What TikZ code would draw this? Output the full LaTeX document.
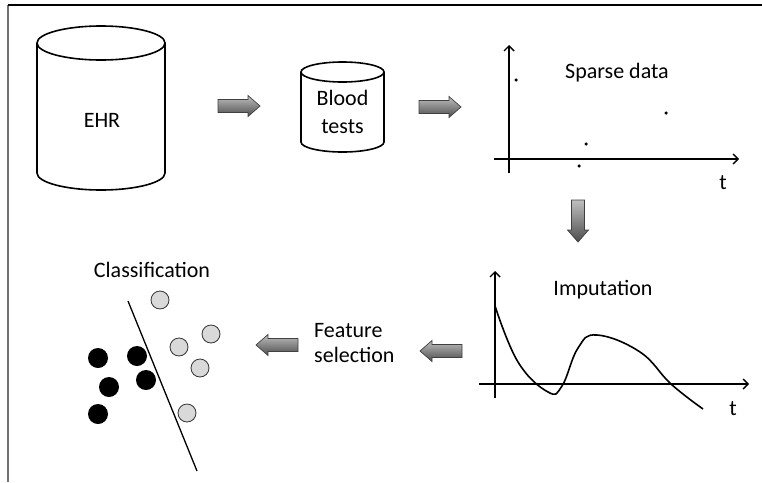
\documentclass[tikz,border=0pt]{standalone}
\usepackage{fontspec}
\setmainfont{Carlito}
\usetikzlibrary{arrows.meta}

\tikzset{
  fatarrow/.style={draw=black!75, line width=0.7pt, top color=black!25, bottom color=black!70},
  axis/.style={line width=1.4pt, -{Straight Barb[length=5pt,width=10pt]}},
  lbl/.style={font=\fontsize{22}{25}\selectfont, inner sep=0pt},
  blackdot/.style={circle, fill=black, minimum size=20pt, inner sep=0pt},
  greydot/.style={circle, draw=black!80, fill=black!15, line width=0.8pt, minimum size=18pt, inner sep=0pt},
  datadot/.style={circle, fill=black, minimum size=3.5pt, inner sep=0pt}
}

\begin{document}
\begin{tikzpicture}[x=1pt,y=-1pt]
    \useasboundingbox (0,0) rectangle (762,482);
    \draw[black!55, line width=1.3pt] (8,5) -- (8,482);
    \draw[line width=1.3pt] (8,5) -- (762,5);

    % databases
    \draw[line width=1.6pt] (37,43) -- (37,173) arc[start angle=180, end angle=0, x radius=64, y radius=17] -- (165,43);
    \draw[line width=1.6pt] (101,43) ellipse[x radius=64, y radius=17];
    \node[lbl] (ehr) at (102,120) {EHR};

    \draw[line width=1.6pt] (301,72) -- (301,142) arc[start angle=180, end angle=0, x radius=41.5, y radius=10] -- (384,72);
    \draw[line width=1.6pt] (342.5,72) ellipse[x radius=41.5, y radius=10];
    \node[lbl, align=center, font=\fontsize{22}{28}\selectfont] (blood) at (342.5,112) {Blood\\tests};

    % block arrows (x/y/rotation)
    \foreach \x/\y/\r in {239/106/0, 440/107/0, 578/221/-90, 441/351/180, 277/345/180}
        \shadedraw[fatarrow, shift={(\x,\y)}, rotate=\r]
            (-21,-6.5) -- (9,-6.5) -- (9,-10.5) -- (21,0) -- (9,10.5) -- (9,6.5) -- (-21,6.5) -- cycle;

    % sparse data
    \draw[axis] (509,173) -- (509,45);
    \draw[axis] (494,159) -- (739,159);
    \node[lbl] (t1) at (723,183) {t};
    \node[lbl] (sparse) at (617,73) {Sparse data};
    \foreach \x/\y in {516/80, 666/113, 586/144, 579/166}
        \node[datadot] at (\x,\y) {};

    % imputation
    \draw[axis] (495,398) -- (495,271);
    \draw[axis] (479,384) -- (749,384);
    \node[lbl] (t2) at (733,409) {t};
    \node[lbl] (imput) at (603,290) {Imputation};
    \draw[line width=1.6pt] plot[smooth, tension=0.7] coordinates {(495,306) (518,362) (548,392) (562,386)
        (578,348) (597,335) (640,352) (671,384) (703,409)};

    % feature selection
    \node[lbl, align=left, anchor=west] (feat) at (314,343) {Feature\\selection};

    % classification
    \node[lbl] (cls) at (152,270) {Classification};
    \draw[line width=1.3pt] (128,301) -- (197,471);
    \foreach \x/\y in {98/358, 137/356, 109/387, 146/380, 98/414}
        \node[blackdot] at (\x,\y) {};
    \foreach \x/\y in {160/300, 211/334, 179/347, 200/368, 187/413}
        \node[greydot] at (\x,\y) {};
\end{tikzpicture}
\end{document}
